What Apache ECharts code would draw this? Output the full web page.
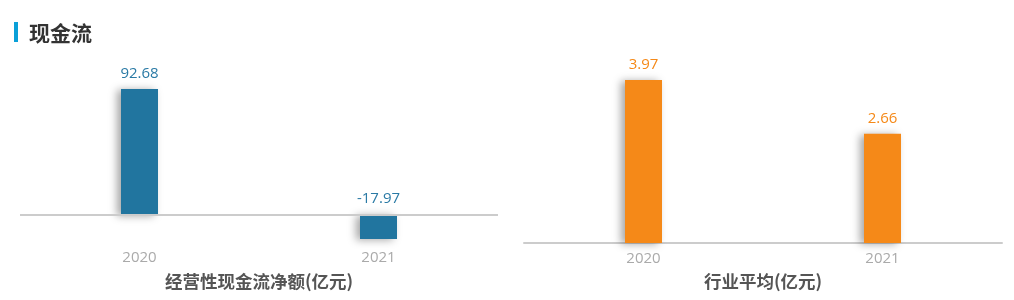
<!DOCTYPE html>
<html>
<head>
<meta charset="utf-8">
<script src="https://cdn.jsdelivr.net/npm/echarts@6/dist/echarts.min.js"></script>
<style>
html,body{margin:0;padding:0;background:#fff;}
#c{width:1014px;height:300px;}
</style>
</head>
<body>
<div id="c"></div>
<script>
const years = ['2020', '2021'];
const netCashFlow = [92.68, -17.97];
const industryAvg = [3.97, 2.66];
const titleText = '现金流';
const leftName = '经营性现金流净额(亿元)';
const rightName = '行业平均(亿元)';

const chart = echarts.init(document.getElementById('c'));
const FONT = '"Noto Sans CJK SC", "Noto Sans", sans-serif';
const NUMFONT = '"Open Sans", "Noto Sans", sans-serif';
const shadow = {shadowColor: 'rgba(0,0,0,0.35)', shadowBlur: 8, shadowOffsetX: -4, shadowOffsetY: 1};

chart.setOption({
  animation: false,
  textStyle: {fontFamily: FONT},
  graphic: [
    {type: 'rect', shape: {x: 14, y: 22, width: 4, height: 20}, style: {fill: '#0aa0d8'}}
  ],
  title: {
    text: titleText, left: 24, top: 18,
    textStyle: {fontSize: 21, fontWeight: 'bold', color: '#333', fontFamily: FONT}
  },
  grid: [
    {left: 20, width: 478, top: 89, height: 150},
    {left: 524, width: 478, top: 80, height: 163}
  ],
  xAxis: [
    {
      type: 'category', gridIndex: 0, data: years,
      axisLine: {show: false}, axisTick: {show: false},
      axisLabel: {color: '#aaa', fontSize: 15, margin: 11, fontFamily: NUMFONT},
      name: leftName, nameLocation: 'middle', nameGap: 34,
      nameTextStyle: {fontSize: 17.5, fontWeight: 'bold', color: '#555', fontFamily: FONT}
    },
    {
      type: 'category', gridIndex: 1, data: years,
      axisLine: {show: true, lineStyle: {color: '#ccc', width: 2}}, axisTick: {show: false},
      axisLabel: {color: '#aaa', fontSize: 15, margin: 8, fontFamily: NUMFONT},
      name: rightName, nameLocation: 'middle', nameGap: 30,
      nameTextStyle: {fontSize: 17.5, fontWeight: 'bold', color: '#555', fontFamily: FONT}
    }
  ],
  yAxis: [
    {type: 'value', gridIndex: 0, show: false, min: 'dataMin', max: 'dataMax', splitLine: {show: false}},
    {type: 'value', gridIndex: 1, show: false, min: 0, max: 'dataMax', splitLine: {show: false}}
  ],
  series: [
    {
      type: 'bar', xAxisIndex: 0, yAxisIndex: 0, data: netCashFlow, barWidth: 37,
      itemStyle: Object.assign({color: '#21759f'}, shadow),
      label: {show: true, position: 'top', distance: 8, color: '#2a7aa5', fontSize: 15, fontFamily: NUMFONT},
      markLine: {
        silent: true, symbol: 'none', label: {show: false},
        lineStyle: {color: '#ccc', width: 2, type: 'solid'},
        data: [{yAxis: 0}]
      }
    },
    {
      type: 'bar', xAxisIndex: 1, yAxisIndex: 1, data: industryAvg, barWidth: 37,
      itemStyle: Object.assign({color: '#f58918'}, shadow),
      label: {show: true, position: 'top', distance: 8, color: '#f58918', fontSize: 15, fontFamily: NUMFONT}
    }
  ]
});
</script>
</body>
</html>
